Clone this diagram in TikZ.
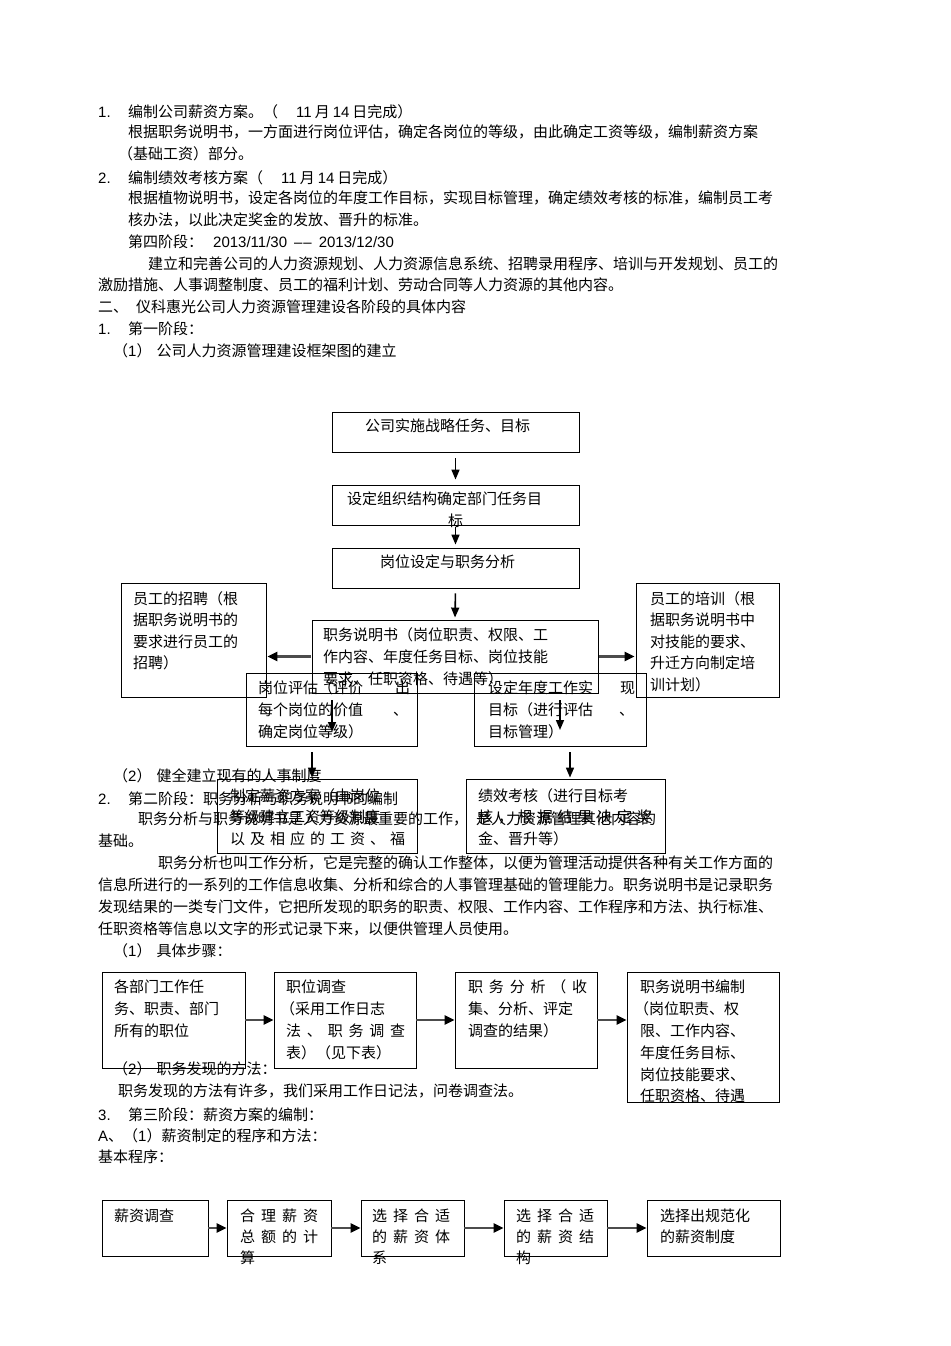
\documentclass[tikz,border=0pt]{standalone}
\usepackage{fontspec}
\setmainfont{Noto Sans CJK SC}
\newfontfamily\lat{Liberation Sans}
\usetikzlibrary{arrows.meta}
\newcommand\spr[2]{\makebox[#1][s]{#2}}
\begin{document}
\begin{tikzpicture}[x=1pt,y=-1pt,
  font=\fontsize{15}{18}\selectfont,
  txt/.style={anchor=west,inner sep=0pt,text height=11pt,text depth=2pt},
  box/.style={draw,line width=0.9pt,inner sep=0pt},
  arr/.style={line width=1.6pt,-{Triangle[length=10pt,width=8pt]}},
  harr/.style={line width=2.6pt,draw=black!70,-{Triangle[length=10pt,width=9pt,color=black]}}]
\fill[white] (0,0) rectangle (950,1346);
\useasboundingbox (0,0) rectangle (950,1346);

% ---------- top text ----------
\node[txt] (t01) at (98,113) {\lat 1.};
\node[txt] (t02) at (128,113) {编制公司薪资方案。（\hspace{18pt}{\lat 11}\hspace{3pt}月\hspace{3pt}{\lat 14}\hspace{3pt}日完成）};
\node[txt] (t03) at (128,133) {根据职务说明书，一方面进行岗位评估，确定各岗位的等级，由此确定工资等级，编制薪资方案};
\node[txt] (t04) at (118,155) {（基础工资）部分。};
\node[txt] (t05) at (98,179) {\lat 2.};
\node[txt] (t06) at (128,179) {编制绩效考核方案（\hspace{18pt}{\lat 11}\hspace{3pt}月\hspace{3pt}{\lat 14}\hspace{3pt}日完成）};
\node[txt] (t07) at (128,199) {根据植物说明书，设定各岗位的年度工作目标，实现目标管理，确定绩效考核的标准，编制员工考};
\node[txt] (t08) at (128,221) {核办法，以此决定奖金的发放、晋升的标准。};
\node[txt] (t09) at (128,243) {第四阶段：\hspace{10pt}{\lat 2013/11/30\hspace{7pt}–\hspace{1pt}–\hspace{7pt}2013/12/30}};
\node[txt] (t10) at (148,265) {建立和完善公司的人力资源规划、人力资源信息系统、招聘录用程序、培训与开发规划、员工的};
\node[txt] (t11) at (98,286) {激励措施、人事调整制度、员工的福利计划、劳动合同等人力资源的其他内容。};
\node[txt] (t12) at (98,308) {二、\hspace{8pt}仪科惠光公司人力资源管理建设各阶段的具体内容};
\node[txt] (t13) at (98,330) {\lat 1.};
\node[txt] (t14) at (128,330) {第一阶段：};
\node[txt] (t15) at (113,352) {（{\lat 1}）\hspace{5pt}公司人力资源管理建设框架图的建立};

% ---------- diagram 1 ----------
\node[box,minimum width=247pt,minimum height=40pt] (A) at (455.5,432) {};
\node[box,minimum width=247pt,minimum height=40pt] (B) at (455.5,505) {};
\node[box,minimum width=247pt,minimum height=40pt] (C) at (455.5,568) {};
\node[box,minimum width=286pt,minimum height=73pt] (D) at (455,656.5) {};
\node[box,minimum width=145pt,minimum height=114pt] (L) at (193.5,640) {};
\node[box,minimum width=143pt,minimum height=114pt] (R) at (707.5,640) {};
\node[box,minimum width=171pt,minimum height=73pt] (E) at (331.5,709.5) {};
\node[box,minimum width=172pt,minimum height=73pt] (F) at (560,709.5) {};
\node[box,minimum width=200pt,minimum height=74pt] (G) at (317,816) {};
\node[box,minimum width=199pt,minimum height=74pt] (H) at (565.5,816) {};

\node[txt] (a1) at (365,427) {公司实施战略任务、目标};
\node[txt] (b1t) at (347,500) {设定组织结构确定部门任务目};
\node[txt] (b2t) at (448,522) {标};
\node[txt] (c1t) at (380,563) {岗位设定与职务分析};
\node[txt] (d1) at (323,636) {职务说明书（岗位职责、权限、工};
\node[txt] (d2) at (323,658) {作内容、年度任务目标、岗位技能};
\node[txt] (d3) at (323,680) {要求、任职资格、待遇等）};
\node[txt] (l1) at (133,600) {员工的招聘（根};
\node[txt] (l2) at (133,621) {据职务说明书的};
\node[txt] (l3) at (133,643) {要求进行员工的};
\node[txt] (l4) at (133,664) {招聘）};
\node[txt] (r1) at (650,600) {员工的培训（根};
\node[txt] (r2) at (650,621) {据职务说明书中};
\node[txt] (r3) at (650,643) {对技能的要求、};
\node[txt] (r4) at (650,664) {升迁方向制定培};
\node[txt] (r5) at (650,686) {训计划）};
\node[txt] (e1) at (258,689) {\spr{152pt}{岗位评估（评价\hfill 出}};
\node[txt] (e2) at (258,711) {\spr{150pt}{每个岗位的价值\hfill 、}};
\node[txt] (e3) at (258,733) {确定岗位等级）};
\node[txt] (f1) at (488,689) {\spr{147pt}{设定年度工作实\hfill 现}};
\node[txt] (f2) at (488,711) {\spr{146pt}{目标（进行评估\hfill 、}};
\node[txt] (f3) at (488,733) {目标管理）};
\node[txt] (g1) at (230,797) {制定薪资方案（由岗位};
\node[txt] (g2) at (230,818) {等级建立工资等级制度};
\node[txt] (g3) at (230,840) {\spr{175pt}{以\hfill 及\hfill 相\hfill 应\hfill 的\hfill 工\hfill 资\hfill 、\hfill 福}};
\node[txt] (h1) at (478,797) {绩效考核（进行目标考};
\node[txt] (h2) at (478,818) {\spr{174pt}{核\hfill ，\hfill 根\hfill 据\hfill 结\hfill 果\hfill 决\hfill 定\hfill 奖}};
\node[txt] (h3) at (478,840) {金、晋升等）};

\coordinate (de1) at (332,700);
\coordinate (de2) at (332,732);
\coordinate (df1) at (560,700);
\coordinate (df2) at (560,730);

\draw[arr,shorten <=6pt,shorten >=5pt] (A.south) -- (B.north);
\draw[arr,shorten <=2pt,shorten >=3pt] (B.south) -- (C.north);
\draw[arr,shorten <=5pt,shorten >=2pt] (C.south) -- (D.north);
\draw[harr,shorten <=1pt,shorten >=1pt] (D.west) -- (D.west -| L.east);
\draw[harr,shorten <=1pt,shorten >=1pt] (D.east) -- (D.east -| R.west);
\draw[arr] (de1) -- (de2);
\draw[arr] (df1) -- (df2);
\draw[arr,shorten <=6pt,shorten >=1pt] (E.south -| 312,0) -- (G.north -| 312,0);
\draw[arr,shorten <=6pt,shorten >=1pt] (F.south -| 570,0) -- (H.north -| 570,0);

% ---------- middle text ----------
\node[txt] (s1) at (113,777) {（{\lat 2}）\hspace{5pt}健全建立现有的人事制度};
\node[txt] (s2) at (98,800) {\lat 2.};
\node[txt] (s3) at (128,800) {第二阶段：职务分析与职务说明书的编制};
\node[txt] (s4) at (138,820) {职务分析与职务说明书是人力资源最重要的工作，\hspace{8pt}是人力资源管理其他内容的};
\node[txt] (s5) at (98,842) {基础。};
\node[txt] (s6) at (158,864) {职务分析也叫工作分析，它是完整的确认工作整体，以便为管理活动提供各种有关工作方面的};
\node[txt] (s7) at (98,886) {信息所进行的一系列的工作信息收集、分析和综合的人事管理基础的管理能力。职务说明书是记录职务};
\node[txt] (s8) at (98,908) {发现结果的一类专门文件，它把所发现的职务的职责、权限、工作内容、工作程序和方法、执行标准、};
\node[txt] (s9) at (98,930) {任职资格等信息以文字的形式记录下来，以便供管理人员使用。};
\node[txt] (s10) at (113,952) {（{\lat 1}）\hspace{5pt}具体步骤：};

% ---------- diagram 2 ----------
\node[box,minimum width=143pt,minimum height=96pt] (p1) at (173.5,1020) {};
\node[box,minimum width=142pt,minimum height=96pt] (p2) at (345,1020) {};
\node[box,minimum width=142pt,minimum height=96pt] (p3) at (526,1020) {};
\node[box,minimum width=152pt,minimum height=130pt] (p4) at (703,1037) {};
\draw[harr] (p1.east) -- (p2.west);
\draw[harr] (p2.east) -- (p3.west);
\draw[harr] (p3.east) -- (p3.east -| p4.west);

\node[txt] (p11) at (114,988) {各部门工作任};
\node[txt] (p12) at (114,1010) {务、职责、部门};
\node[txt] (p13) at (114,1032) {所有的职位};
\node[txt] (p21) at (286,988) {职位调查};
\node[txt] (p22) at (280,1010) {（采用工作日志};
\node[txt] (p23) at (286,1032) {\spr{119pt}{法\hfill 、\hfill 职\hfill 务\hfill 调\hfill 查}};
\node[txt] (p24) at (286,1054) {表）（见下表）};
\node[txt] (p31) at (468,988) {\spr{119pt}{职\hfill 务\hfill 分\hfill 析\hfill （\hfill 收}};
\node[txt] (p32) at (468,1010) {集、分析、评定};
\node[txt] (p33) at (468,1032) {调查的结果）};
\node[txt] (p41) at (640,988) {职务说明书编制};
\node[txt] (p42) at (634,1010) {（岗位职责、权};
\node[txt] (p43) at (640,1032) {限、工作内容、};
\node[txt] (p44) at (640,1054) {年度任务目标、};
\node[txt] (p45) at (640,1076) {岗位技能要求、};
\node[txt] (p46) at (640,1097) {任职资格、待遇};

\node[txt] (m1) at (113,1070) {（{\lat 2}）\hspace{5pt}职务发现的方法：};
\node[txt] (m2) at (118,1092) {职务发现的方法有许多，我们采用工作日记法，问卷调查法。};
\node[txt] (m3) at (98,1116) {\lat 3.};
\node[txt] (m4) at (128,1116) {第三阶段：薪资方案的编制：};
\node[txt] (m5) at (98,1137) {{\lat A}、（{\lat 1}）薪资制定的程序和方法：};
\node[txt] (m6) at (98,1158) {基本程序：};

% ---------- diagram 3 ----------
\node[box,minimum width=106pt,minimum height=56pt] (q1) at (155,1228) {};
\node[box,minimum width=104pt,minimum height=56pt] (q2) at (279,1228) {};
\node[box,minimum width=103pt,minimum height=56pt] (q3) at (412.5,1228) {};
\node[box,minimum width=103pt,minimum height=56pt] (q4) at (555.5,1228) {};
\node[box,minimum width=133pt,minimum height=56pt] (q5) at (713.5,1228) {};
\draw[harr] (q1.east) -- (q2.west);
\draw[harr] (q2.east) -- (q3.west);
\draw[harr] (q3.east) -- (q4.west);
\draw[harr] (q4.east) -- (q5.west);

\node[txt] (q1a) at (114,1217) {薪资调查};
\node[txt] (q2a) at (240,1217) {\spr{78pt}{合\hfill 理\hfill 薪\hfill 资}};
\node[txt] (q2b) at (240,1238) {\spr{78pt}{总\hfill 额\hfill 的\hfill 计}};
\node[txt] (q2c) at (240,1259) {算};
\node[txt] (q3a) at (372,1217) {\spr{78pt}{选\hfill 择\hfill 合\hfill 适}};
\node[txt] (q3b) at (372,1238) {\spr{78pt}{的\hfill 薪\hfill 资\hfill 体}};
\node[txt] (q3c) at (372,1259) {系};
\node[txt] (q4a) at (516,1217) {\spr{78pt}{选\hfill 择\hfill 合\hfill 适}};
\node[txt] (q4b) at (516,1238) {\spr{78pt}{的\hfill 薪\hfill 资\hfill 结}};
\node[txt] (q4c) at (516,1259) {构};
\node[txt] (q5a) at (660,1217) {选择出规范化};
\node[txt] (q5b) at (660,1238) {的薪资制度};
\end{tikzpicture}
\end{document}
